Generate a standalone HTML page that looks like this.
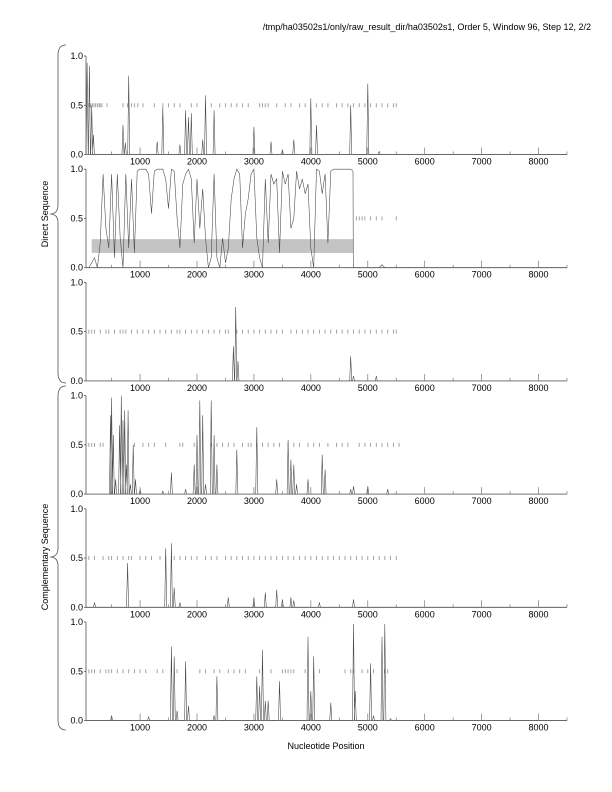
<!DOCTYPE html>
<html><head><meta charset="utf-8"><style>
body{margin:0;background:#fff;}
svg{display:block;font-family:"Liberation Sans",sans-serif;}
</style></head><body>
<svg id="c" width="612" height="792" xmlns="http://www.w3.org/2000/svg">
<text x="591" y="30" font-size="9" text-anchor="end">/tmp/ha03502s1/only/raw_result_dir/ha03502s1, Order 5, Window 96, Step 12, 2/2</text>
<text x="326" y="749" font-size="9" text-anchor="middle">Nucleotide Position</text>
<path d="M66,45 Q58,45 58,55 L58,205 Q58,214 50,214 Q58,214 58,223 L58,373 Q58,383 66,383" fill="none" stroke="#555" stroke-width="0.8"/>
<path d="M66,386 Q58,386 58,396 L58,548 Q58,557 50,557 Q58,557 58,566 L58,720 Q58,730 66,730" fill="none" stroke="#555" stroke-width="0.8"/>
<text transform="translate(48,214) rotate(-90)" font-size="9" text-anchor="middle">Direct Sequence</text>
<text transform="translate(48,557) rotate(-90)" font-size="9" text-anchor="middle">Complementary Sequence</text>
</svg>
<script>
const xTicks=[1000,2000,3000,4000,5000,6000,7000,8000];
const yTicks=[0,0.5,1];
const yTickLabels=["0.0","0.5","1.0"];
const p1Peaks=[[70,0.93],[110,0.9],[150,0.5],[180,0.2],[700,0.3],[740,0.12],[800,0.8],[1300,0.13],[1400,0.48],[1700,0.1],[1800,0.45],[1850,0.38],[1900,0.42],[2100,0.15],[2150,0.6],[2300,0.45],[3000,0.28],[3300,0.13],[3500,0.05],[3700,0.15],[4000,0.57],[4100,0.3],[4700,0.5],[5000,0.72],[5200,0.03]];
const p1Marks=[100,130,160,190,220,250,280,300,330,420,700,780,850,900,960,1050,1250,1400,1500,1600,1700,1900,2000,2250,2400,2500,2600,2700,2800,2900,3100,3150,3200,3250,3400,3550,3650,3800,3900,4100,4200,4300,4450,4550,4650,4750,4850,4950,5050,5150,5250,5350,5450,5500];
const p2Pos=[100,200,250,300,350,400,450,500,550,600,650,700,750,800,850,900,950,1000,1100,1150,1200,1250,1300,1400,1450,1500,1550,1600,1650,1700,1750,1800,1850,1900,1950,2000,2050,2100,2150,2200,2250,2300,2350,2400,2450,2500,2550,2600,2650,2700,2750,2800,2850,2900,2950,3000,3050,3100,3150,3200,3250,3300,3350,3400,3450,3500,3550,3600,3650,3700,3750,3800,3850,3900,3950,4000,4050,4100,4150,4200,4250,4300,4350,4400,4700,4740,4745,5200,5250,5300,8500];
const p2Val=[0,0.1,0,0.25,0.95,0.4,0.2,0.95,0.1,0.95,0.3,0,0.95,0.2,0.9,0.15,0.98,1,1,0.95,0.55,0.98,1,1,0.9,0.6,1,0.98,0.5,0.2,0.85,0.95,1,0.9,0.25,0.9,0.4,0.8,0.3,0,0.1,0.95,0.1,0,0.3,0.05,0.2,0.7,0.9,1,0.95,0.2,0.55,0.7,0.95,1,0.3,0.1,0,0.9,0.25,0.95,0.85,0.9,0.15,0.98,0.85,0.95,0.4,0.5,0.98,0.8,0.9,0.75,0.85,0.2,0,1,0.98,0.75,0.95,0.25,0.98,1,1,0.98,0,0,0.03,0,0];
const p2Band=[150,4750,0.15,0.29];
const p2Marks=[4800,4850,4900,4950,5050,5150,5250,5500];
const p3Peaks=[[2640,0.35],[2680,0.75],[2720,0.2],[4700,0.25],[4750,0.05],[5150,0.05]];
const p3Marks=[100,150,200,300,400,450,550,650,700,750,850,950,1050,1150,1250,1350,1450,1550,1650,1700,1800,1900,2000,2100,2200,2300,2400,2500,2550,2700,2800,2900,3000,3100,3200,3300,3400,3500,3650,3750,3850,3950,4050,4150,4250,4350,4450,4550,4650,4750,4850,4950,5050,5150,5250,5350,5450,5500];
const p4Peaks=[[480,0.8],[500,0.98],[530,0.6],[570,0.15],[640,0.7],[670,1],[700,0.75],[730,0.85],[760,0.3],[790,0.85],[830,0.1],[880,0.5],[920,0.15],[1000,0.05],[1400,0.03],[1550,0.22],[1800,0.05],[1950,0.3],[2000,0.6],[2050,0.95],[2100,0.8],[2150,0.1],[2250,0.95],[2300,0.6],[2350,0.3],[2700,0.45],[3050,0.68],[3400,0.15],[3600,0.55],[3650,0.35],[3700,0.3],[3750,0.1],[3950,0.15],[4200,0.4],[4250,0.25],[4700,0.05],[4750,0.08],[5000,0.08],[5350,0.05]];
const p4Marks=[100,150,200,300,350,900,1050,1150,1250,1450,1700,1750,1950,2000,2250,2350,2450,2550,2650,2800,2900,2950,3050,3150,3250,3350,3450,3600,3700,3800,3950,4050,4150,4300,4450,4550,4650,4850,4950,5050,5150,5250,5350,5450,5550];
const p5Peaks=[[200,0.05],[780,0.45],[1450,0.6],[1550,0.65],[1600,0.2],[1700,0.05],[2550,0.1],[3000,0.1],[3200,0.15],[3400,0.18],[3500,0.08],[3650,0.1],[3700,0.07],[4150,0.05],[4750,0.08]];
const p5Marks=[100,200,350,450,500,600,700,800,850,1000,1100,1200,1350,1450,1600,1700,1800,1900,2000,2150,2250,2350,2500,2600,2700,2800,2900,3000,3100,3200,3300,3400,3500,3600,3700,3800,3900,4000,4100,4200,4300,4400,4500,4600,4700,4800,4900,5000,5100,5200,5300,5400,5500];
const p6Peaks=[[500,0.05],[1150,0.04],[1550,0.75],[1600,0.65],[1650,0.1],[1800,0.6],[1850,0.15],[2300,0.05],[2350,0.45],[3050,0.45],[3100,0.35],[3150,0.72],[3200,0.2],[3250,0.2],[3450,0.4],[3950,0.85],[4000,0.3],[4050,0.65],[4350,0.18],[4750,0.98],[4780,0.3],[5050,0.58],[5100,0.05],[5250,0.85],[5300,0.98],[5400,0.02]];
const p6Marks=[100,150,200,300,400,450,500,600,700,800,900,1000,1100,1300,1400,1550,1650,1800,2050,2150,2300,2400,2550,2650,2750,2850,3100,3150,3300,3500,3550,3600,3650,3700,3900,4150,4600,4700,4750,4900,5000,5100,5300,5350];

const svg=document.getElementById('c');
const NS='http://www.w3.org/2000/svg';
const X0=50,X1=8500,PX0=86,PX1=567;
function sx(v){return PX0+(v-X0)/(X1-X0)*(PX1-PX0);}
function mk(t,a){const e=document.createElementNS(NS,t);for(const k in a)e.setAttribute(k,a[k]);svg.appendChild(e);return e;}
function peaksToSeries(pk){const pts=[[X0,0]];pk.forEach(p=>{pts.push([Math.max(X0,p[0]-18),0]);pts.push([p[0],p[1]]);pts.push([p[0]+18,0]);});pts.push([X1,0]);return pts;}
const panels=[
 {name:'direct-frame-1',series:peaksToSeries(p1Peaks),marks:p1Marks},
 {name:'direct-frame-2',series:p2Pos.map((p,i)=>[p,p2Val[i]]),marks:p2Marks,band:p2Band},
 {name:'direct-frame-3',series:peaksToSeries(p3Peaks),marks:p3Marks},
 {name:'complementary-frame-1',series:peaksToSeries(p4Peaks),marks:p4Marks},
 {name:'complementary-frame-2',series:peaksToSeries(p5Peaks),marks:p5Marks},
 {name:'complementary-frame-3',series:peaksToSeries(p6Peaks),marks:p6Marks}];
panels.forEach((pn,i)=>{
 const top=56+i*113.2,h=98.5;
 const sy=v=>top+h-v*h;
 if(pn.band){
  const b=mk('rect',{x:sx(pn.band[0]),y:sy(pn.band[3]),width:sx(pn.band[1])-sx(pn.band[0]),height:sy(pn.band[2])-sy(pn.band[3]),fill:'#c4c4c4'});
  
  
 }
 pn.marks.forEach(m=>{
  const t=mk('line',{x1:sx(m),x2:sx(m),y1:sy(0.5)-2,y2:sy(0.5)+2,stroke:'#999','stroke-width':0.9});
  
  
 });
 const d=pn.series.map((p,j)=>(j?'L':'M')+sx(p[0]).toFixed(1)+','+sy(p[1]).toFixed(1)).join('');
 const ln=mk('path',{d:d,fill:'none',stroke:'#444','stroke-width':0.55});
 
 
 const ya=mk('line',{x1:PX0,x2:PX0,y1:top,y2:top+h,stroke:'#555','stroke-width':0.8});
 
 
 const xa=mk('line',{x1:PX0,x2:PX1,y1:top+h,y2:top+h,stroke:'#555','stroke-width':0.8});
 
 
 yTicks.forEach((v,k)=>{
  const tk=mk('line',{x1:PX0-2,x2:PX0,y1:sy(v),y2:sy(v),stroke:'#555','stroke-width':0.8});
  
  
  const tl=mk('text',{x:PX0-3,y:sy(v)+3,'font-size':9,'text-anchor':'end'});
  tl.textContent=yTickLabels[k];
  
  
 });
 for(let v=500;v<=8500;v+=500){
  const major=v%1000===0;
  const tk=mk('line',{x1:sx(v),x2:sx(v),y1:top+h-(major?7:3),y2:top+h,stroke:'#777','stroke-width':0.7});
  
  
 }
 xTicks.forEach(v=>{
  const tl=mk('text',{x:sx(v),y:top+h+10,'font-size':9,'text-anchor':'middle'});
  tl.textContent=v;
  
  
 });
});
</script>
</body></html>
